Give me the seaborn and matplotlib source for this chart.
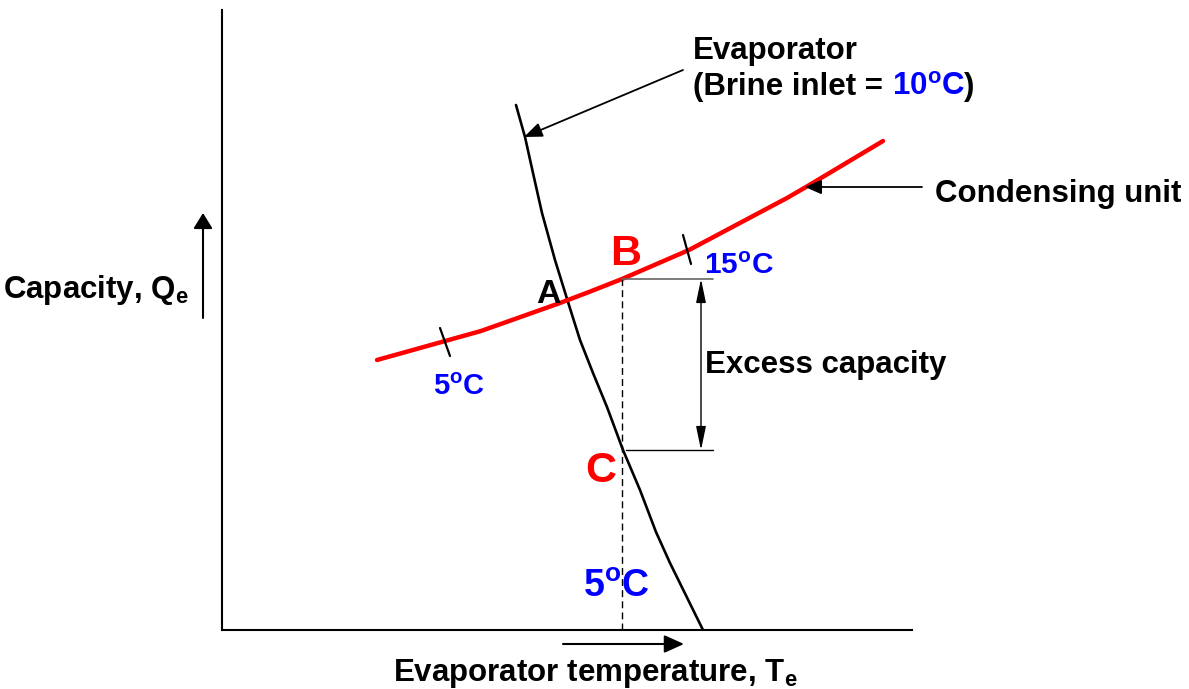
import matplotlib
matplotlib.use("Agg")
import matplotlib.pyplot as plt
import pandas as pd
import seaborn as sns

# ---- schematic data (arbitrary units: x = evaporator temperature, y = capacity) ----
cond_T = [155, 259, 338, 367, 400, 467, 565, 584, 661]
cond_Q = [270, 299, 327, 338, 351, 380, 432, 443, 489]

evap_T = [294, 303, 311, 320, 333, 346, 358, 371, 385, 401, 418, 434, 448, 481]
evap_Q = [525, 493, 457, 417, 370, 328, 290, 257, 223, 180, 140, 98, 67, 0]

# operating points: B on the condensing-unit curve, C on the evaporator curve
B_T, B_Q = 400, 351
C_T, C_Q = 400, 180
excess_right = 491
excess_arrow_T = 479

# temperature marks drawn across the condensing-unit curve
mark_5C_T, mark_5C_Q = [218, 228], [302, 274]
mark_15C_T, mark_15C_Q = [461, 469], [395, 366]

T_MAX, Q_MAX = 690, 620

cond = pd.DataFrame({"T": cond_T, "Q": cond_Q})
evap = pd.DataFrame({"T": evap_T, "Q": evap_Q})

sns.set_theme(style="white")
plt.rcParams["font.family"] = ["Liberation Sans", "DejaVu Sans"]
plt.rcParams["font.weight"] = "bold"
plt.rcParams["mathtext.fontset"] = "custom"
plt.rcParams["mathtext.rm"] = "Liberation Sans:bold"
plt.rcParams["mathtext.bf"] = "Liberation Sans:bold"
plt.rcParams["mathtext.it"] = "Liberation Sans:bold"

fig = plt.figure(figsize=(11.89, 6.89), dpi=100)
ax = fig.add_axes([222 / 1189, 59 / 689, 690 / 1189, 620 / 689])
ax.set_xlim(0, T_MAX)
ax.set_ylim(0, Q_MAX)
ax.set_xticks([])
ax.set_yticks([])
sns.despine(ax=ax)
for side in ("left", "bottom"):
    ax.spines[side].set_color("black")
    ax.spines[side].set_linewidth(1.5)

# curves
sns.lineplot(data=evap, x="T", y="Q", sort=False, color="black", lw=1.9, ax=ax)
sns.lineplot(data=cond, x="T", y="Q", sort=False, color="#ff0000", lw=3.2, ax=ax)
ax.set_xlabel("")
ax.set_ylabel("")

# temperature marks
ax.plot(mark_5C_T, mark_5C_Q, color="black", lw=1.6)
ax.plot(mark_15C_T, mark_15C_Q, color="black", lw=1.6)

# excess capacity construction
ax.plot([B_T, B_T], [0, B_Q], color="black", lw=1.0, ls=(0, (5, 3)))
ax.plot([B_T, excess_right], [B_Q, B_Q], color="0.4", lw=1.2)
ax.plot([C_T + 4, excess_right], [C_Q, C_Q], color="black", lw=1.0)
ax.annotate("", xy=(excess_arrow_T, C_Q), xytext=(excess_arrow_T, B_Q),
            arrowprops=dict(arrowstyle="<|-|>,head_length=0.72,head_width=0.15",
                            color="black", lw=1.0, mutation_scale=20,
                            shrinkA=0, shrinkB=0))

# leader arrows
ax.annotate("", xy=(302, 493), xytext=(461, 560), annotation_clip=False,
            arrowprops=dict(arrowstyle="-|>,head_length=0.55,head_width=0.22",
                            color="black", lw=1.3, mutation_scale=20,
                            shrinkA=0, shrinkB=0))
ax.annotate("", xy=(583, 443), xytext=(700, 443), annotation_clip=False,
            arrowprops=dict(arrowstyle="-|>,head_length=0.5,head_width=0.22",
                            color="black", lw=1.3, mutation_scale=20,
                            shrinkA=0, shrinkB=0))

# axis direction arrows
ax.annotate("", xy=(-19, 417), xytext=(-19, 312), annotation_clip=False,
            arrowprops=dict(arrowstyle="-|>,head_length=0.47,head_width=0.29",
                            color="black", lw=1.5, mutation_scale=20,
                            shrinkA=0, shrinkB=0))
ax.annotate("", xy=(462, -14), xytext=(341, -14), annotation_clip=False,
            arrowprops=dict(arrowstyle="-|>,head_length=0.6,head_width=0.27",
                            color="black", lw=1.5, mutation_scale=20,
                            shrinkA=0, shrinkB=0))

BLUE = "#0000ff"
RED = "#ff0000"
txt = dict(fontweight="bold", va="baseline", ha="left", clip_on=False)

# axis labels
ax.text(-219, 332, r"Capacity, Q$_{\mathbf{e}}$", fontsize=22.5, color="black", **txt)
ax.text(171, -50.5, r"Evaporator temperature, T$_{\mathbf{e}}$", fontsize=22.5,
        color="black", **txt)

# curve labels
ax.text(471, 571, "Evaporator", fontsize=22.5, color="black", **txt)
t1 = ax.text(471, 535, "(Brine inlet = ", fontsize=22.5, color="black", **txt)
t2 = ax.annotate(r"10$^{\mathbf{o}}$C", xy=(1, 535), xycoords=(t1, "data"),
                 fontsize=22.5, color=BLUE, fontweight="bold",
                 va="baseline", ha="left", annotation_clip=False)
ax.annotate(")", xy=(1, 535), xycoords=(t2, "data"), fontsize=22.5,
            color="black", fontweight="bold", va="baseline", ha="left",
            annotation_clip=False)
ax.text(713, 428, "Condensing unit", fontsize=22.5, color="black", **txt)
ax.text(483, 257, "Excess capacity", fontsize=22.5, color="black", **txt)

# point labels
ax.text(314, 327, "A", fontsize=24.5, color="black", **txt)
ax.text(388, 365, "B", fontsize=31, color=RED, **txt)
ax.text(363, 148, "C", fontsize=31, color=RED, **txt)

# temperature labels
ax.text(211, 235, r"5$^{\mathbf{o}}$C", fontsize=21, color=BLUE, **txt)
ax.text(482, 356.5, r"15$^{\mathbf{o}}$C", fontsize=21.5, color=BLUE, **txt)
ax.text(361, 33, r"5$^{\mathbf{o}}$C", fontsize=27, color=BLUE, **txt)

fig.savefig("out.png", dpi=100, facecolor="white")
